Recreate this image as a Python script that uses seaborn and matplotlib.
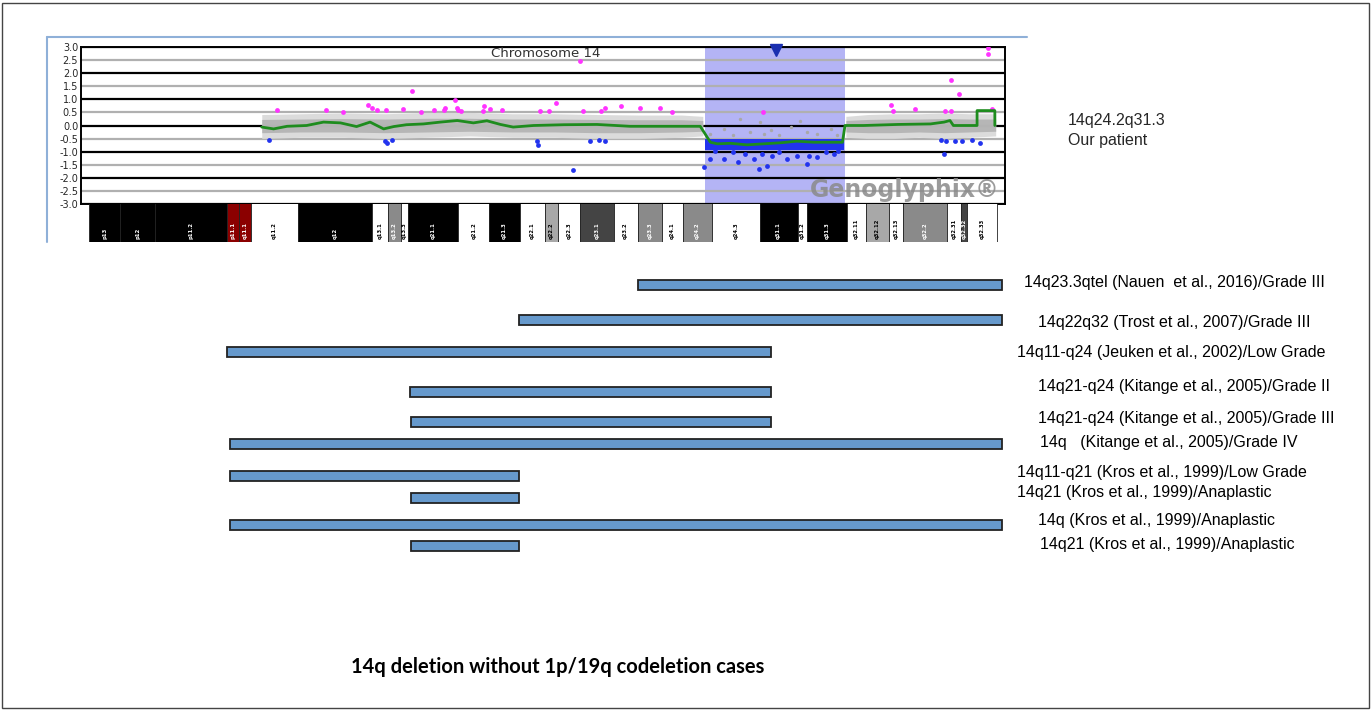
import numpy as np
import pandas as pd
import matplotlib.pyplot as plt
import seaborn as sns
from matplotlib.patches import Rectangle
from matplotlib.lines import Line2D

sns.set_style("white")
plt.rcParams['font.family'] = ['Liberation Sans', 'DejaVu Sans']

# ---- chromosome 14 ideogram (Mb) ----
band_names = ["p13", "p12", "p11.2", "p11.1", "q11.1", "q11.2", "q12", "q13.1", "q13.2", "q13.3",
              "q21.1", "q21.2", "q21.3", "q22.1", "q22.2", "q22.3", "q23.1", "q23.2", "q23.3",
              "q24.1", "q24.2", "q24.3", "q31.1", "q31.2", "q31.3", "q32.11", "q32.12", "q32.13",
              "q32.2", "q32.31", "q32.32", "q32.33"]
band_start = [0.0, 3.7, 7.8, 16.3, 17.7, 19.1, 24.7, 33.4, 35.3, 36.8, 37.7, 43.6, 47.3, 50.9,
              53.9, 55.4, 58.0, 62.0, 64.8, 67.7, 70.2, 73.6, 79.2, 83.7, 84.8, 89.5, 91.8, 94.5,
              96.2, 101.4, 103.0, 103.7]
band_end = band_start[1:] + [107.3]
band_stain = ["black", "black", "black", "cen", "cen", "white", "black", "white", "grey", "white",
              "black", "white", "black", "white", "light", "white", "dark", "white", "grey",
              "white", "grey", "white", "black", "white", "black", "white", "light", "white",
              "grey", "white", "dark", "white"]

# ---- array CGH of our patient ----
seg_x = [20.4, 21.8, 23.4, 25.7, 27.7, 29.7, 31.6, 33.2, 34.8, 36.0, 37.5, 39.5, 41.5, 43.5,
         45.4, 47.0, 48.6, 50.1, 52.5, 56.1, 60.0, 63.9, 67.9, 72.2, 73.4, 74.2, 75.8, 77.7,
         79.7, 81.7, 83.6, 85.6, 87.6, 89.0, 89.3, 91.5, 95.5, 99.4, 101.0, 101.7, 102.1,
         104.9, 104.9, 107.0, 107.0]
seg_y = [-0.06, -0.13, -0.03, 0.0, 0.13, 0.10, -0.04, 0.13, -0.13, -0.04, 0.03, 0.06, 0.13, 0.19,
         0.10, 0.18, 0.04, -0.06, 0.0, 0.03, 0.04, -0.03, -0.03, -0.03, -0.64, -0.70, -0.68, -0.74,
         -0.70, -0.66, -0.60, -0.64, -0.64, -0.64, 0.0, 0.0, 0.04, 0.06, 0.13, 0.19, 0.0,
         0.0, 0.57, 0.57, 0.0]

gain_x = [22.2, 28.0, 30.05, 33.0, 33.4, 34.0, 35.1, 37.1, 38.1, 39.2, 40.8, 41.9, 42.1, 43.25,
          43.45, 43.6, 43.9, 46.6, 46.5, 47.4, 48.8, 53.3, 54.3, 55.2, 58.0, 58.4, 60.5, 61.0,
          62.8, 65.1, 67.4, 68.9, 79.6, 94.7, 95.0, 97.6, 101.1, 101.8, 101.8, 102.8, 106.2,
          106.2, 106.7]
gain_y = [0.61, 0.61, 0.51, 0.79, 0.66, 0.61, 0.61, 0.64, 1.30, 0.51, 0.60, 0.60, 0.66, 0.96,
          0.66, 0.61, 0.56, 0.73, 0.57, 0.64, 0.60, 0.57, 0.57, 0.85, 2.45, 0.57, 0.57, 0.66,
          0.73, 0.68, 0.68, 0.51, 0.51, 0.77, 0.54, 0.64, 0.54, 0.57, 1.72, 1.21, 2.95,
          2.72, 0.64]

loss_x = [21.2, 35.0, 35.2, 35.8, 52.9, 53.0, 57.2, 59.2, 60.2, 61.0, 100.6, 101.2, 102.3, 103.1,
          104.3, 105.3, 101.0, 72.6, 73.4, 74.0, 74.95, 76.1, 76.7, 77.5, 78.5, 79.1, 79.5, 80.1,
          80.7, 81.5, 82.4, 83.6, 84.8, 85.0, 86.0, 87.0, 87.95, 88.5]
loss_y = [-0.57, -0.61, -0.65, -0.54, -0.60, -0.74, -1.70, -0.61, -0.54, -0.60, -0.57, -0.60,
          -0.61, -0.61, -0.55, -0.66, -1.08, -1.59, -1.27, -0.96, -1.27, -1.02, -1.38, -1.08,
          -1.27, -1.66, -1.08, -1.53, -1.15, -1.02, -1.27, -1.15, -1.47, -1.15, -1.21, -1.02,
          -1.08, -0.96]

# probes with normal ratio inside the deleted segment
mid_x = [76.9, 79.3, 74.95, 78.1, 80.6, 82.9, 84.0, 86.0, 87.6, 73.4, 76.1, 81.5, 79.7, 84.8, 88.4]
mid_y = [0.26, 0.13, -0.13, -0.25, -0.19, -0.06, 0.19, -0.32, -0.13, -0.32, -0.38, -0.38, -0.32,
         -0.25, -0.38]

# envelope of the bulk of normal probes
cloud_l_x = [20.4, 25, 30, 35, 40, 45, 50, 55, 60, 65, 70, 72.5]
cloud_l_hi = [0.42, 0.45, 0.48, 0.45, 0.50, 0.50, 0.45, 0.45, 0.42, 0.40, 0.40, 0.35]
cloud_l_lo = [-0.50, -0.45, -0.45, -0.50, -0.45, -0.40, -0.45, -0.45, -0.50, -0.50, -0.45, -0.40]
cloud_r_x = [89.4, 92, 95, 98, 101, 104, 107.1]
cloud_r_hi = [0.35, 0.42, 0.45, 0.45, 0.48, 0.45, 0.45]
cloud_r_lo = [-0.45, -0.50, -0.50, -0.45, -0.50, -0.45, -0.40]
deleted_x = [72.8, 89.2]
deleted_hi = [-0.50, -0.50]
deleted_lo = [-0.95, -0.95]

del_start, del_end = 72.8, 89.25
marker_pos = 81.1

# ---- literature cases ----
case_labels = ["14q23.3qtel (Nauen  et al., 2016)/Grade III",
               "14q22q32 (Trost et al., 2007)/Grade III",
               "14q11-q24 (Jeuken et al., 2002)/Low Grade",
               "14q21-q24 (Kitange et al., 2005)/Grade II",
               "14q21-q24 (Kitange et al., 2005)/Grade III",
               "14q   (Kitange et al., 2005)/Grade IV",
               "14q11-q21 (Kros et al., 1999)/Low Grade",
               "14q21 (Kros et al., 1999)/Anaplastic",
               "14q (Kros et al., 1999)/Anaplastic",
               "14q21 (Kros et al., 1999)/Anaplastic"]
case_start = [64.9, 50.8, 16.3, 37.9, 38.0, 16.7, 16.7, 38.0, 16.7, 38.0]
case_end = [107.8, 107.8, 80.6, 80.6, 80.6, 107.8, 50.8, 50.8, 107.8, 50.8]

# layout (pixels of the 1371x710 canvas)
W, H = 1371, 710
row_y = [285, 320, 352, 392, 422, 444, 476, 498, 525, 546]
label_x = [1024, 1038, 1017, 1038, 1038, 1040, 1017, 1017, 1038, 1040]
label_y = [283, 322, 352, 386, 419, 443, 472, 493, 520, 545]
xlim = (-0.95, 108.2)

fig = plt.figure(figsize=(W / 100, H / 100), dpi=100)

# CNV panel
ax = fig.add_axes([81 / W, 1 - 204 / H, 924 / W, 157 / H])
ax.axvspan(del_start, del_end, color="#b4b4f5", zorder=0.5, lw=0)
for v in np.arange(-3, 3.01, 0.5):
    if v % 1 == 0:
        ax.axhline(v, color="black", lw=1.6, zorder=1)
    else:
        ax.axhline(v, color="#b0b0b0", lw=1.6, zorder=1)

for cx, hi, lo in [(cloud_l_x, cloud_l_hi, cloud_l_lo), (cloud_r_x, cloud_r_hi, cloud_r_lo)]:
    ax.fill_between(cx, lo, hi, color="#d8d8d8", alpha=0.9, lw=0, zorder=2)
    ax.fill_between(cx, np.array(lo) * 0.55, np.array(hi) * 0.55, color="#b2b2b2", alpha=0.9, lw=0, zorder=2)
ax.fill_between(deleted_x, deleted_lo, deleted_hi, color="#2233ee", lw=0, zorder=2.5)

sns.scatterplot(x=mid_x, y=mid_y, color="#a8a8a8", s=6, linewidth=0, ax=ax, zorder=3)
sns.scatterplot(x=gain_x, y=gain_y, color="#ff33ff", s=12, linewidth=0, ax=ax, zorder=3)
sns.scatterplot(x=loss_x, y=loss_y, color="#2233ee", s=12, linewidth=0, ax=ax, zorder=3)

seg = pd.DataFrame({"pos": seg_x, "ratio": seg_y})
sns.lineplot(data=seg, x="pos", y="ratio", estimator=None, sort=False, color="#1e8c1e", lw=2,
             ax=ax, zorder=4)

ax.plot([marker_pos], [2.88], marker="v", color="#1a2fb0", ms=8, zorder=5, clip_on=False)
ax.text(53.9, 2.75, "Chromosome 14", ha="center", va="center", fontsize=9.5, color="#333333",
        family="DejaVu Sans", zorder=5)
ax.text(107.6, -2.48, "Genoglyphix®", ha="right", va="center", fontsize=17, fontweight="bold",
        color="#8a8a8a", alpha=0.85, family="DejaVu Sans", zorder=5)

ax.set_xlim(*xlim)
ax.set_ylim(-3, 3)
ax.set_yticks(np.arange(-3, 3.01, 0.5))
ax.set_yticklabels([f"{v:.1f}" for v in np.arange(-3, 3.01, 0.5)], fontsize=7, family="DejaVu Sans")
ax.tick_params(axis="y", length=0, pad=2)
ax.set_xticks([])
ax.set_xlabel("")
ax.set_ylabel("")
for s in ax.spines.values():
    s.set_color("black")
    s.set_linewidth(1.4)
    s.set_visible(True)

# ideogram
ideo = fig.add_axes([81 / W, 1 - 242 / H, 924 / W, 38 / H])
colors = {"black": "#000000", "cen": "#8b0000", "white": "#ffffff", "grey": "#8a8a8a",
          "light": "#a8a8a8", "dark": "#444444"}
for name, b0, b1, st in zip(band_names, band_start, band_end, band_stain):
    ideo.add_patch(Rectangle((b0, 0), b1 - b0, 1.05, facecolor=colors[st], edgecolor="#222222", lw=0.6))
    tc = "black" if st in ("white", "light") else "white"
    ideo.text((b0 + b1) / 2, 0.08, name, rotation=90, ha="center", va="bottom", fontsize=3.8,
              color=tc, family="DejaVu Sans", fontweight="bold")
ideo.set_xlim(*xlim)
ideo.set_ylim(0, 1)
ideo.axis("off")

# literature bars
bx = fig.add_axes([81 / W, 0, 924 / W, 1])
bx.barh(row_y, np.array(case_end) - np.array(case_start), left=case_start, height=10,
        color="#6699cc", edgecolor="#222222", linewidth=1.3)
bx.set_xlim(*xlim)
bx.set_ylim(H, 0)
bx.axis("off")

for lab, lx, ly in zip(case_labels, label_x, label_y):
    fig.text(lx / W, 1 - ly / H, lab, ha="left", va="center", fontsize=11.5, color="black")
fig.text(1068 / W, 1 - 121 / H, "14q24.2q31.3", ha="left", va="center", fontsize=11.5)
fig.text(1068 / W, 1 - 140 / H, "Our patient", ha="left", va="center", fontsize=11.5)

fig.text(558 / W, 1 - 667 / H, "14q deletion without 1p/19q codeletion cases", ha="center",
         va="center", fontsize=14.5, fontweight="bold", color="black",
         family=["Lato", "DejaVu Sans"])

# panel and outer frame
fig.add_artist(Line2D([47 / W, 1027 / W], [1 - 37 / H, 1 - 37 / H], color="#8fb0d8", lw=1.5))
fig.add_artist(Line2D([47 / W, 47 / W], [1 - 37 / H, 1 - 242 / H], color="#8fb0d8", lw=1.5))
fig.add_artist(Rectangle((2 / W, 2 / H), 1367 / W, 705 / H, fill=False, edgecolor="#444444",
                         lw=1, transform=fig.transFigure))

fig.savefig("out.png", dpi=100)
